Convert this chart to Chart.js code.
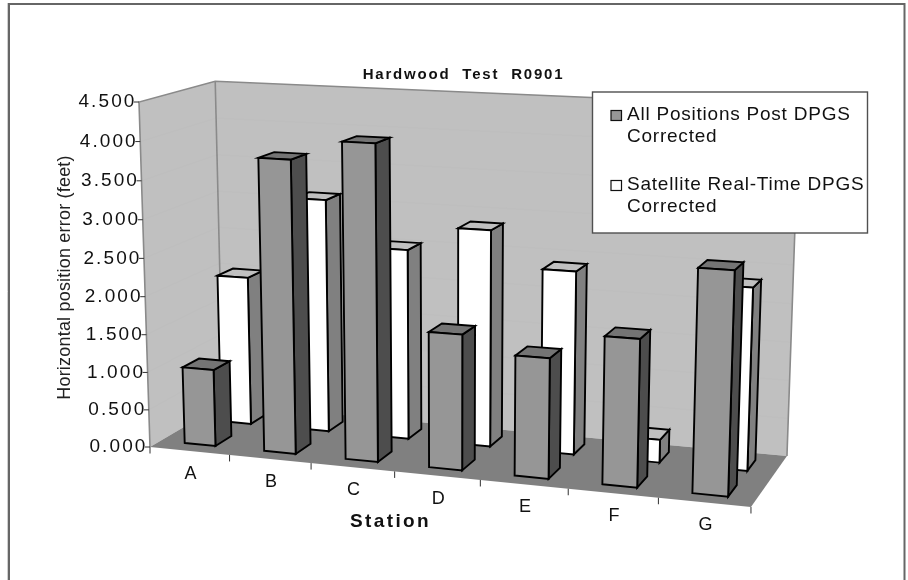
<!DOCTYPE html>
<html>
<head>
<meta charset="utf-8">
<style>html,body{margin:0;padding:0;background:#fff}#wrap{width:908px;height:580px}</style>
<script src="https://cdn.jsdelivr.net/npm/chart.js@4"></script>
</head>
<body>
<div id="wrap"><canvas id="c" width="908" height="580"></canvas></div>
<script>
const stations = ['A','B','C','D','E','F','G'];
const postCorrected = [1.02,3.82,4.08,1.75,1.54,1.87,2.79];
const realTimeCorrected = [2.01,3.12,2.53,2.86,2.40,0.30,2.35];
const legendLabels = [['All Positions Post DPGS','Corrected'],['Satellite Real-Time DPGS','Corrected']];
const chartTitle = 'Hardwood  Test  R0901';
const xTitle = 'Station';
const yTitle = 'Horizontal position error (feet)';

const FONT = '"Liberation Sans", Arial, sans-serif';
// camera projection of (u along stations, v depth, w height), each 0..1
const cam = {a:[150,537.5,88.83,-15.87], b:[447,17.16,-14.32,-348.57], c:[-0.0845,0.071,-0.035]};
function P(u,v,w){
  const d = 1+cam.c[0]*u+cam.c[1]*v+cam.c[2]*w;
  return [(cam.a[0]+cam.a[1]*u+cam.a[2]*v+cam.a[3]*w)/d,(cam.b[0]+cam.b[1]*u+cam.b[2]*v+cam.b[3]*w)/d];
}
function poly(ctx,pts,fill,stroke,lw){
  ctx.beginPath();
  pts.forEach((p,i)=>i?ctx.lineTo(p[0],p[1]):ctx.moveTo(p[0],p[1]));
  ctx.closePath();
  if(fill){ctx.fillStyle=fill;ctx.fill();}
  if(stroke){ctx.strokeStyle=stroke;ctx.lineWidth=lw||1;ctx.lineJoin='miter';ctx.stroke();}
}
function text(ctx,s,x,y,font,color,align,spacing){
  ctx.font=font;ctx.fillStyle=color;ctx.textAlign=align||'center';ctx.textBaseline='middle';
  ctx.letterSpacing=(spacing||0)+'px';
  ctx.fillText(s,x,y);
  ctx.letterSpacing='0px';
}
const rows = [{v0:0.14,v1:0.36},{v0:0.64,v1:0.86}];
const faces = [
  {front:'#969696',top:'#747474',side:'#4d4d4d'},
  {front:'#ffffff',top:'#c0c0c0',side:'#808080'}
];
const scene3d = {
  id:'scene3d',
  beforeDatasetsDraw(chart){
    const ctx=chart.ctx, area=chart.chartArea, xS=chart.scales.x, yS=chart.scales.y;
    const uOf=x=>(x-area.left)/(area.right-area.left);
    const wOf=y=>(yS.bottom-y)/(yS.bottom-yS.top);
    ctx.save();
    // page frame
    ctx.strokeStyle='#d0d0d0';ctx.lineWidth=1;
    ctx.beginPath();ctx.moveTo(7.5,580);ctx.lineTo(7.5,3);ctx.stroke();
    ctx.strokeStyle='#666666';ctx.lineWidth=2;
    ctx.beginPath();ctx.moveTo(9,580);ctx.lineTo(9,4);ctx.lineTo(904.5,4);ctx.lineTo(904.5,580);ctx.stroke();

    // walls and floor
    const wall='#c0c0c0', edge='#8a8a8a';
    poly(ctx,[P(0,0,0),P(0,1,0),P(0,1,1),P(0,0,1)],wall);
    poly(ctx,[P(0,1,0),P(1,1,0),P(1,1,1),P(0,1,1)],wall);
    poly(ctx,[P(0,0,0),P(1,0,0),P(1,1,0),P(0,1,0)],'#808080');
    // faint gridlines
    ctx.strokeStyle='#bebebe';ctx.lineWidth=1;
    yS.ticks.forEach(t=>{
      const w=wOf(yS.getPixelForValue(t.value));
      if(w<=0||w>=1)return;
      const a=P(0,0,w),b=P(0,1,w),c=P(1,1,w);
      ctx.beginPath();ctx.moveTo(a[0],a[1]);ctx.lineTo(b[0],b[1]);ctx.lineTo(c[0],c[1]);ctx.stroke();
    });
    // wall edges
    ctx.strokeStyle=edge;ctx.lineWidth=1.6;
    let a=P(0,0,0),b=P(0,0,1),c=P(0,1,1),d=P(1,1,1),e=P(1,1,0),f=P(0,1,0);
    ctx.beginPath();ctx.moveTo(a[0],a[1]);ctx.lineTo(b[0],b[1]);ctx.lineTo(c[0],c[1]);ctx.lineTo(d[0],d[1]);ctx.lineTo(e[0],e[1]);ctx.stroke();
    ctx.beginPath();ctx.moveTo(c[0],c[1]);ctx.lineTo(f[0],f[1]);ctx.stroke();

    // y ticks and labels
    ctx.strokeStyle='#303030';ctx.lineWidth=1;
    yS.ticks.forEach(t=>{
      const w=wOf(yS.getPixelForValue(t.value));
      const p=P(0,0,w);
      ctx.beginPath();ctx.moveTo(p[0]-5,p[1]);ctx.lineTo(p[0],p[1]);ctx.stroke();
      text(ctx,t.value.toFixed(3),p[0]-2.5,p[1],'19px '+FONT,'#111','right',2.1);
    });
    // x ticks and labels
    for(let i=0;i<=stations.length;i++){
      const p=P(i/stations.length,0,0);
      ctx.beginPath();ctx.moveTo(p[0],p[1]);ctx.lineTo(p[0],p[1]+6.5);ctx.stroke();
    }
    stations.forEach((s,i)=>{
      const p=P(uOf(xS.getPixelForValue(i)),0,0);
      text(ctx,s,p[0]+1,p[1]+23,'18px '+FONT,'#111');
    });

    // bars: rear row first so the front row overlaps it
    [1,0].forEach(ds=>{
      const meta=chart.getDatasetMeta(ds), r=rows[ds], col=faces[ds];
      meta.data.forEach(el=>{
        const u0=uOf(el.x-el.width/2), u1=uOf(el.x+el.width/2), w=wOf(el.y);
        const fl=P(u0,r.v0,0),fr=P(u1,r.v0,0),tl=P(u0,r.v0,w),tr=P(u1,r.v0,w);
        const br=P(u1,r.v1,0),tbr=P(u1,r.v1,w),tbl=P(u0,r.v1,w);
        const lw=1.9, k='#000';
        poly(ctx,[fr,br,tbr,tr],col.side,k,lw);
        poly(ctx,[tl,tr,tbr,tbl],col.top,k,lw);
        poly(ctx,[fl,fr,tr,tl],col.front,k,lw);
      });
    });

    // titles
    text(ctx,chartTitle,463.5,74.5,'bold 15px '+FONT,'#111','center',1.8);
    text(ctx,xTitle,390.5,521.5,'bold 19px '+FONT,'#111','center',2.4);
    ctx.save();ctx.translate(65.5,277.5);ctx.rotate(-Math.PI/2);
    text(ctx,yTitle,0,0,'18px '+FONT,'#222','center',0.2);
    ctx.restore();

    // legend
    ctx.fillStyle='#fff';ctx.fillRect(592.5,92,275,141);
    ctx.strokeStyle='#505050';ctx.lineWidth=1.4;ctx.strokeRect(592.5,92,275,141);
    const ys=[115,184.5];
    legendLabels.forEach((lines,i)=>{
      const col=chart.data.datasets[i].backgroundColor;
      ctx.fillStyle=col;ctx.fillRect(611,ys[i]-(i?4:4.5),10.5,10);
      ctx.strokeStyle='#111';ctx.lineWidth=1.2;ctx.strokeRect(611,ys[i]-(i?4:4.5),10.5,10);
      lines.forEach((s,j)=>text(ctx,s,627,ys[i]+j*22,'19px '+FONT,'#111','left',0.77));
    });
    ctx.restore();
    return false;
  }
};
new Chart(document.getElementById('c'),{
  type:'bar',
  data:{labels:stations,datasets:[
    {label:legendLabels[0].join(' '),data:postCorrected,backgroundColor:'#969696',borderColor:'#000'},
    {label:legendLabels[1].join(' '),data:realTimeCorrected,backgroundColor:'#ffffff',borderColor:'#000'}
  ]},
  options:{
    responsive:false,animation:false,
    layout:{padding:0},
    datasets:{bar:{grouped:false,categoryPercentage:1,barPercentage:0.39}},
    plugins:{legend:{display:false},title:{display:false},tooltip:{enabled:false}},
    scales:{
      x:{display:false,type:'category',offset:true,grid:{offset:true}},
      y:{display:false,type:'linear',min:0,max:4.5,ticks:{stepSize:0.5}}
    }
  },
  plugins:[scene3d]
});
</script>
</body>
</html>
